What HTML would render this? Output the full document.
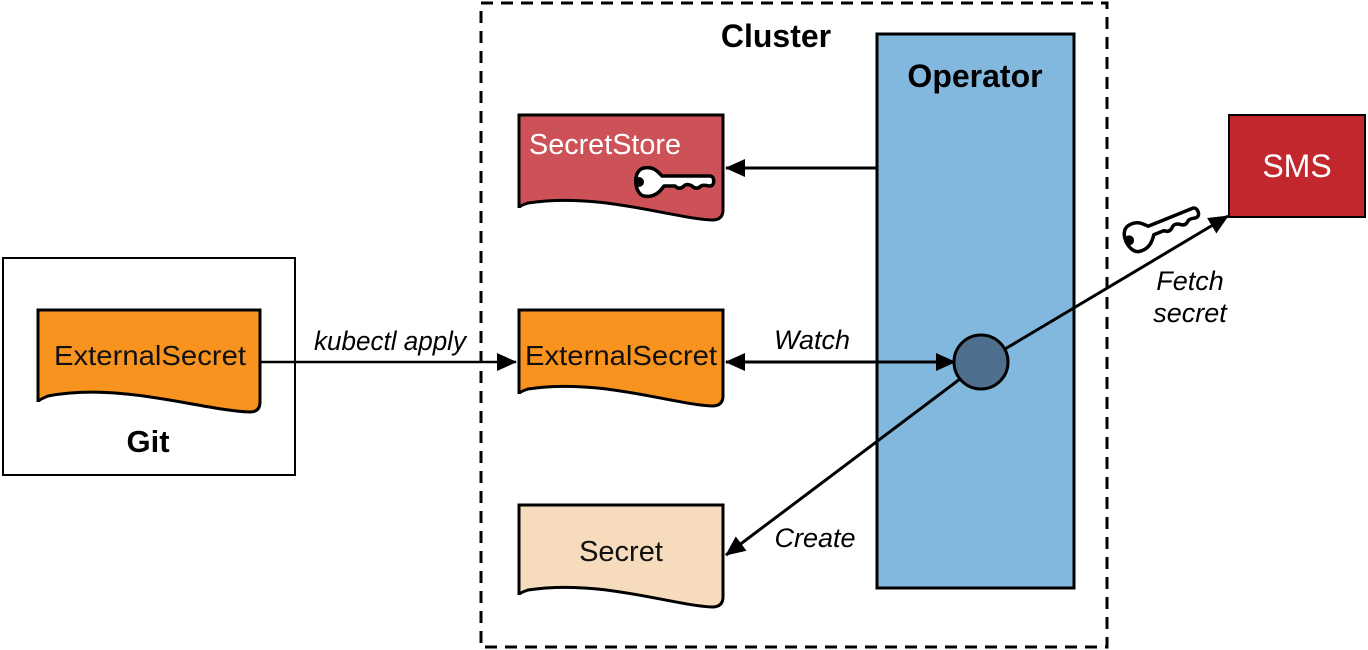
<!DOCTYPE html>
<html><head><meta charset="utf-8"><style>
html,body{margin:0;padding:0;background:#fff;}
svg{display:block;}
text{font-family:"Liberation Sans",sans-serif;}
</style></head><body>
<svg width="1368" height="650" viewBox="0 0 1368 650" xmlns="http://www.w3.org/2000/svg">
<defs>
<marker id="ah2" markerWidth="20" markerHeight="18" refX="19" refY="9" orient="auto-start-reverse" markerUnits="userSpaceOnUse" viewBox="0 0 20 18">
<path d="M0,0 L20,9 L0,18 Z" fill="#000"/></marker>
<g id="key">
<path d="M4,-14 C14,-16 18,-10 22,-6 H70 C75,-6 75,4 70,4 C66,4 64,2 61,4 C58,7 55,7 52,4 C49,2 46,2 44,4 C41,7 38,7 35,4 H24 C20,10 14,16 4,14 C-6,12 -8,-12 4,-14 Z" fill="#fff" stroke="#000" stroke-width="3.5" stroke-linejoin="round"/>
<circle cx="-1" cy="0" r="5" fill="#000"/>
</g>
</defs>

<rect x="3" y="258" width="292" height="217" fill="#fff" stroke="#000" stroke-width="2"/>
<path d="M38,310 H260 V402 Q260,412 250,412 C200,410 120,382 48,396 Q38,400 38,402 Z" fill="#f7931e" stroke="#000" stroke-width="3"/>
<text x="150" y="365" font-size="28" text-anchor="middle" fill="#111" textLength="192" lengthAdjust="spacingAndGlyphs">ExternalSecret</text>
<text x="148" y="452" font-size="31" font-weight="bold" text-anchor="middle" fill="#000">Git</text>

<rect x="481" y="3" width="626" height="644" fill="none" stroke="#000" stroke-width="3" stroke-dasharray="12,8"/>
<text x="776" y="47" font-size="32" font-weight="bold" text-anchor="middle">Cluster</text>

<rect x="877" y="34" width="197" height="554" fill="#82b8de" stroke="#000" stroke-width="3"/>
<text x="975" y="87" font-size="32" font-weight="bold" text-anchor="middle">Operator</text>

<path d="M519,115 H723 V210 Q723,220 712,220 C670,218 600,192 528,203 Q519,206 519,208 Z" fill="#cd5257" stroke="#000" stroke-width="3"/>
<text x="605" y="154" font-size="29" fill="#fff" text-anchor="middle" textLength="152" lengthAdjust="spacingAndGlyphs">SecretStore</text>
<use href="#key" x="640" y="182"/>

<path d="M519,310 H723 V396 Q723,406 712,406 C670,404 600,378 528,389 Q519,392 519,394 Z" fill="#f7931e" stroke="#000" stroke-width="3"/>
<text x="621" y="365" font-size="28" text-anchor="middle" fill="#111" textLength="192" lengthAdjust="spacingAndGlyphs">ExternalSecret</text>

<path d="M519,505 H723 V597 Q723,607 712,607 C670,605 600,579 528,590 Q519,593 519,595 Z" fill="#f6dbbd" stroke="#000" stroke-width="3"/>
<text x="621" y="561" font-size="29" text-anchor="middle" fill="#111">Secret</text>

<rect x="1229" y="115" width="136" height="102" fill="#c1272d" stroke="#000" stroke-width="2"/>
<text x="1297" y="177" font-size="32" fill="#fff" text-anchor="middle">SMS</text>

<line x1="877" y1="168" x2="726" y2="168" stroke="#000" stroke-width="3" marker-end="url(#ah2)"/>
<line x1="260" y1="362" x2="516" y2="362" stroke="#000" stroke-width="2.5" marker-end="url(#ah2)"/>
<text x="390" y="350" font-size="27" font-style="italic" text-anchor="middle" textLength="152" lengthAdjust="spacingAndGlyphs">kubectl apply</text>
<line x1="726" y1="362" x2="955" y2="362" stroke="#000" stroke-width="3" marker-start="url(#ah2)" marker-end="url(#ah2)"/>
<text x="812" y="349" font-size="27" font-style="italic" text-anchor="middle">Watch</text>
<circle cx="981" cy="362" r="27" fill="#4f6f8f" stroke="#000" stroke-width="3"/>
<line x1="960" y1="379" x2="726" y2="555" stroke="#000" stroke-width="3" marker-end="url(#ah2)"/>
<text x="815" y="547" font-size="27" font-style="italic" text-anchor="middle">Create</text>
<line x1="1005" y1="349" x2="1228" y2="216" stroke="#000" stroke-width="3" marker-end="url(#ah2)"/>
<text x="1190" y="290" font-size="27" font-style="italic" text-anchor="middle">Fetch</text>
<text x="1190" y="322" font-size="27" font-style="italic" text-anchor="middle">secret</text>
<use href="#key" transform="translate(1130,240) rotate(-22)"/>
</svg>
</body></html>
